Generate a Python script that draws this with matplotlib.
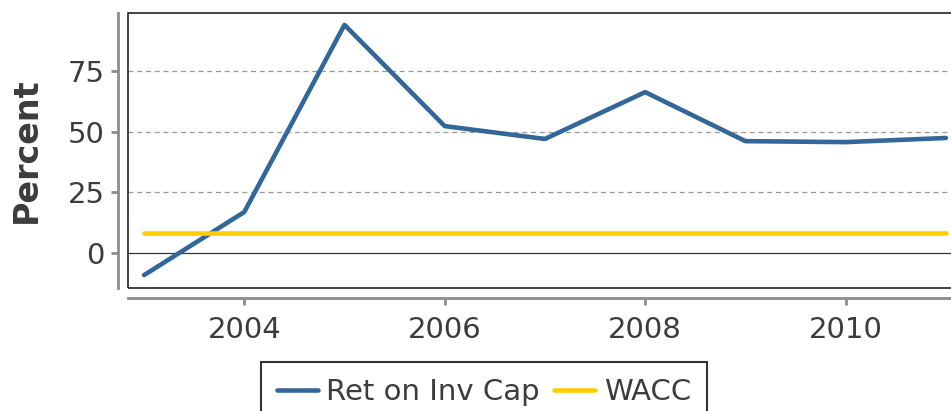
import matplotlib
matplotlib.use("Agg")
import matplotlib.pyplot as plt
from matplotlib.patches import Rectangle

# %%
## Data
years = [2003, 2004, 2005, 2006, 2007, 2008, 2009, 2010, 2011]
roic = [-9.1, 16.9, 94.0, 52.3, 47.0, 66.3, 46.1, 45.7, 47.4]
wacc = [8.2, 8.2, 8.2, 8.2, 8.2, 8.2, 8.2, 8.2, 8.2]
series_names = ["Ret on Inv Cap", "WACC"]
COLORS = ["#336699", "#FFCC00"]
TEXT = "#3c3c3c"
GREY = "#8c8c8c"

plt.rcParams["font.family"] = ["DejaVu Sans"]

# %%
fig = plt.figure(figsize=(9.51, 4.11), dpi=100)
ax = fig.add_axes([0.1346, 0.2993, 0.88, 0.6691])

ax.plot(years, roic, color=COLORS[0], lw=3.3, solid_capstyle="round", label=series_names[0], zorder=3)
ax.plot(years, wacc, color=COLORS[1], lw=3.3, solid_capstyle="round", label=series_names[1], zorder=3)

ax.set_xlim(2002.84, 2011.19)
ax.set_ylim(-14.4, 98.9)
ax.set_yticks([0, 25, 50, 75])
ax.set_xticks([2004, 2006, 2008, 2010])

for v in [25, 50, 75]:
    ax.axhline(v, color="#999999", lw=0.9, ls=(0, (4, 3)), zorder=1)
ax.axhline(0, color="#333333", lw=0.9, zorder=1)

# panel border
ax.add_patch(Rectangle((0, 0), 1, 1, transform=ax.transAxes, fill=False,
                       edgecolor="#222222", lw=1.2, clip_on=False, zorder=4))

for s in ["top", "right"]:
    ax.spines[s].set_visible(False)
ax.spines["left"].set_position(("outward", 7))
ax.spines["bottom"].set_position(("outward", 7))
for s in ["left", "bottom"]:
    ax.spines[s].set_color(GREY)
    ax.spines[s].set_linewidth(2)
ax.tick_params(axis="both", colors=GREY, width=2, length=5, labelsize=21,
               labelcolor=TEXT)
ax.tick_params(axis="x", pad=8)
ax.tick_params(axis="y", pad=5)

ax.set_ylabel("Percent", fontsize=24, fontweight="bold", color=TEXT, labelpad=18)

fig.legend(loc="upper center", bbox_to_anchor=(484 / 951, 49 / 411), ncols=2,
           fontsize=21, frameon=True, fancybox=False, edgecolor="black",
           handlelength=1.4, handletextpad=0.3, columnspacing=0.5,
           borderpad=0.55, borderaxespad=0, labelcolor=TEXT)
fig.legends[0].get_frame().set_linewidth(1.5)

fig.savefig("out.png", dpi=100)
